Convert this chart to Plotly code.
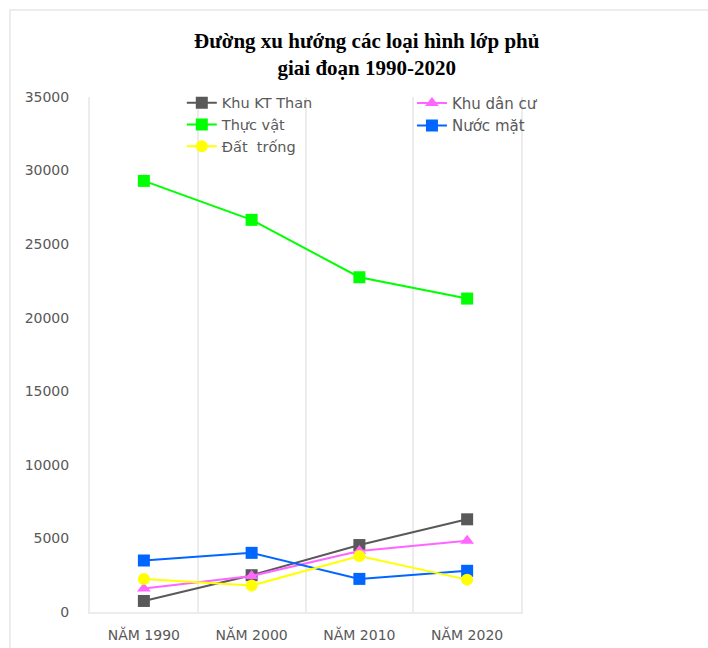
import plotly.graph_objects as go

categories = ["NĂM 1990", "NĂM 2000", "NĂM 2010", "NĂM 2020"]
khu_kt_than = [750, 2500, 4550, 6300]
khu_dan_cu = [1600, 2450, 4150, 4850]
thuc_vat = [29300, 26650, 22750, 21300]
nuoc_mat = [3500, 4020, 2250, 2800]
dat_trong = [2250, 1800, 3800, 2200]

title_text = "Đường xu hướng các loại hình lớp phủ<br>giai đoạn 1990-2020"

fig = go.Figure()

def add(name, y, color, symbol, legend):
    fig.add_trace(go.Scatter(
        x=categories, y=y, name=name, mode="lines+markers",
        line=dict(color=color, width=2),
        marker=dict(color=color, symbol=symbol, size=12),
        legend=legend,
    ))

add("Khu KT Than", khu_kt_than, "#595959", "square", "legend")
add("Khu dân cư", khu_dan_cu, "#ff66ff", "triangle-up", "legend2")
add("Thực vật", thuc_vat, "#00ff00", "square", "legend")
add("Nước mặt", nuoc_mat, "#0066ff", "square", "legend2")
add("Đất  trống", dat_trong, "#ffff00", "circle", "legend")

grid = "#ececec"
sans = "DejaVu Sans, Liberation Sans, sans-serif"

fig.update_layout(
    width=708, height=648,
    margin=dict(l=90, r=187, t=97, b=36, autoexpand=False),
    paper_bgcolor="white", plot_bgcolor="white",
    font=dict(family=sans, color="#595959"),
    title=dict(text=title_text, x=0.518, xanchor="center", y=0.926, yanchor="top",
               font=dict(family="Liberation Serif, Times New Roman, serif", size=21,
                         color="black", weight="bold")),
    showlegend=True,
    legend=dict(x=0.213, xanchor="left", y=1.02, yanchor="top", bgcolor="rgba(0,0,0,0)",
                font=dict(size=14.5, color="#595959", family=sans), tracegroupgap=0, itemwidth=30),
    legend2=dict(x=0.747, xanchor="left", y=1.02, yanchor="top", bgcolor="rgba(0,0,0,0)",
                 font=dict(size=15, color="#595959", family=sans), tracegroupgap=0, itemwidth=30),
    xaxis=dict(type="category", range=[-0.5, 3.5], tickson="boundaries",
               showgrid=True, gridcolor=grid, gridwidth=2, automargin=False,
               showline=True, linecolor=grid, linewidth=2,
               ticks="", tickfont=dict(size=14, color="#595959"), ticklabelstandoff=9),
    yaxis=dict(range=[0, 35000], dtick=5000, tickformat="d", showgrid=False, zeroline=False,
               showline=True, linecolor=grid, linewidth=2, mirror=True, automargin=False,
               ticks="", tickfont=dict(size=14, color="#595959"),
               ticklabelstandoff=16),
    shapes=[dict(type="rect", xref="paper", yref="paper",
                 x0=(10 - 90) / 431, x1=2.0, y0=-0.5, y1=1 + (97 - 10) / 515,
                 line=dict(color="#e6e6e6", width=1.5), fillcolor="rgba(0,0,0,0)",
                 layer="below")],
)

fig.write_html("out.html")
